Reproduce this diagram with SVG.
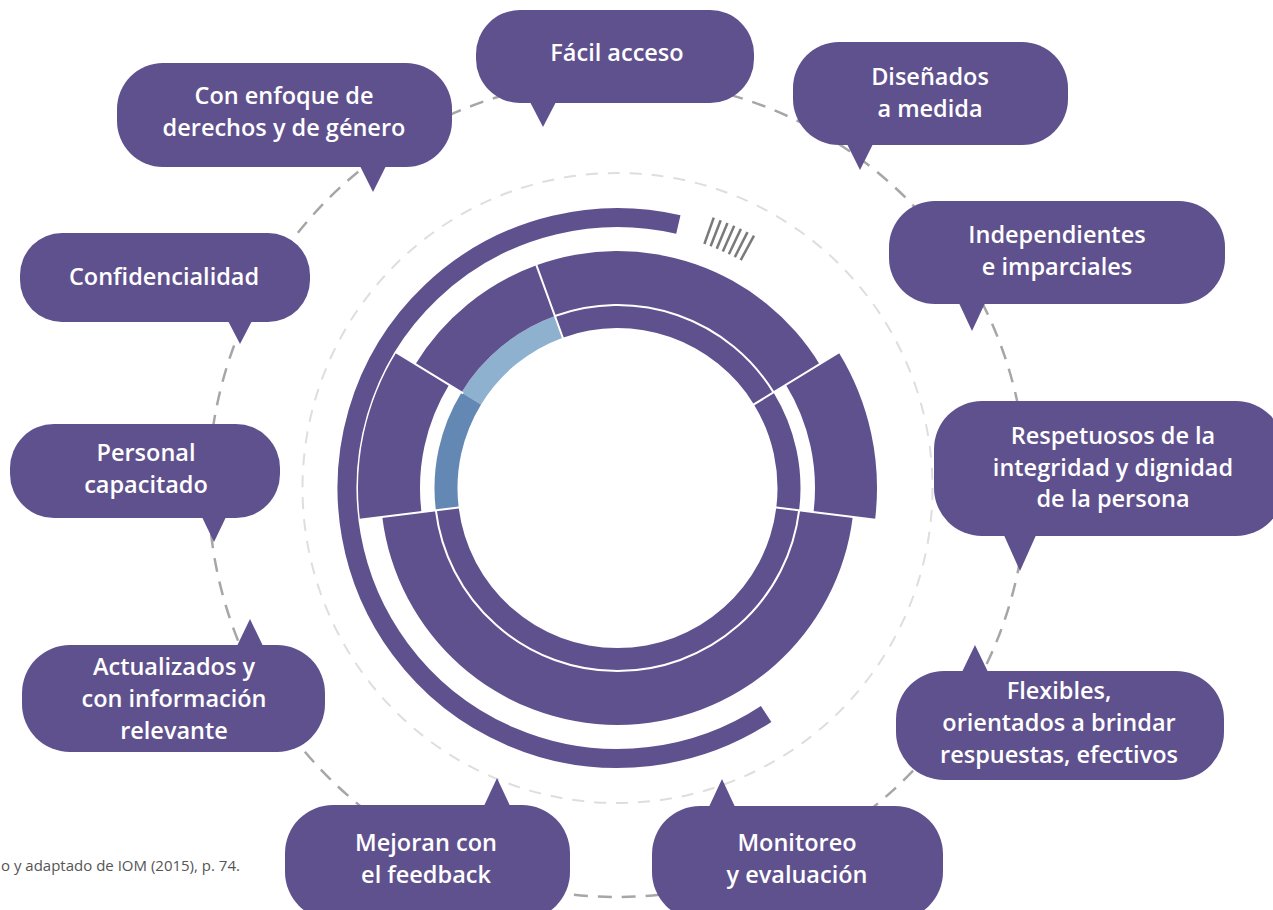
<svg xmlns="http://www.w3.org/2000/svg" width="1273" height="910" viewBox="0 0 1273 910">
<style>
.p{fill:#5f518e}
.lb{fill:#8fb1d0}
.mb{fill:#6488b4}
.wl{fill:none;stroke:#ffffff;stroke-width:2}
.bub{fill:#5f518e}
.t{font-family:"Open Sans","Noto Sans","Liberation Sans",sans-serif;font-weight:600;font-size:23.5px;fill:#ffffff;text-anchor:middle}
.foot{font-family:"Open Sans","Noto Sans","Liberation Sans",sans-serif;font-size:15px;fill:#555555}
.dk{fill:none;stroke:#a6a6a6;stroke-width:2.5;stroke-dasharray:14 10}
.lt{fill:none;stroke:#dedede;stroke-width:2;stroke-dasharray:12 10}
.tick{stroke:#7a7a7a;stroke-width:2.5;stroke-linecap:butt}
</style>
<rect width="1273" height="910" fill="#ffffff"/>
<g id="guides">
<circle class="dk" cx="617.5" cy="488" r="409"/>
<circle class="lt" cx="617.5" cy="488" r="315"/>
</g>
<g id="rings">
<path class="p" d="M 819.58 364.17 A 237 237 0 0 0 536.44 265.29 L 562.78 337.65 A 160 160 0 0 1 753.92 404.40 Z"/>
<path class="p" d="M 799.14 510.30 A 183 183 0 0 0 773.53 392.38 L 753.92 404.40 A 160 160 0 0 1 776.31 507.50 Z"/>
<path class="p" d="M 382.27 516.88 A 237 237 0 0 0 852.73 516.88 L 776.31 507.50 A 160 160 0 0 1 458.69 507.50 Z"/>
<path class="lb" d="M 554.91 316.04 A 183 183 0 0 0 461.47 392.38 L 481.08 404.40 A 160 160 0 0 1 562.78 337.65 Z"/>
<path class="mb" d="M 461.47 392.38 A 183 183 0 0 0 435.86 510.30 L 458.69 507.50 A 160 160 0 0 1 481.08 404.40 Z"/>
<path class="p" d="M 536.44 265.29 A 237 237 0 0 0 415.42 364.17 L 461.47 392.38 A 183 183 0 0 1 554.91 316.04 Z"/>
<path class="p" d="M 396.24 352.41 A 259.5 259.5 0 0 0 359.93 519.63 L 421.47 512.07 A 197.5 197.5 0 0 1 449.10 384.81 Z"/>
<path class="p" d="M 875.07 519.63 A 259.5 259.5 0 0 0 838.76 352.41 L 785.90 384.81 A 197.5 197.5 0 0 1 813.53 512.07 Z"/>
<path class="wl" d="M 773.53 392.38 A 183 183 0 0 0 554.91 316.04"/>
<path class="wl" d="M 435.86 510.30 A 183 183 0 0 0 799.14 510.30"/>
<path class="wl" d="M 563.46 339.53 L 535.76 263.41 M 752.22 405.44 L 840.89 351.10 M 774.32 507.26 L 877.55 519.93 M 463.17 393.43 L 394.11 351.10 M 460.68 507.26 L 357.45 519.93"/>
<path fill="none" stroke="#5f518e" stroke-width="19" d="M 678.35 224.43 A 270.5 270.5 0 1 0 766.14 714.0"/>
<g id="ticks">
<line class="tick" x1="704.38" y1="244.0" x2="713.77" y2="217.63"/>
<line class="tick" x1="710.62" y1="246.32" x2="720.69" y2="220.19"/>
<line class="tick" x1="716.74" y1="248.76" x2="727.46" y2="222.90"/>
<line class="tick" x1="722.85" y1="251.39" x2="734.23" y2="225.81"/>
<line class="tick" x1="728.87" y1="254.17" x2="740.91" y2="228.89"/>
<line class="tick" x1="734.81" y1="257.09" x2="747.5" y2="232.13"/>
<line class="tick" x1="740.69" y1="260.17" x2="754.0" y2="235.54"/>
</g>
</g>
<g id="n-facil">
<rect class="bub" x="476" y="10" width="278" height="93" rx="44"/>
<polygon class="bub" points="529,100 557,100 543,127"/>
<text class="t" x="617" y="61">Fácil acceso</text>
</g>
<g id="n-enfoque">
<rect class="bub" x="117" y="63" width="335" height="104" rx="46"/>
<polygon class="bub" points="359,164 387,164 373,192"/>
<text class="t" x="284" y="104">Con enfoque de</text>
<text class="t" x="284" y="136">derechos y de género</text>
</g>
<g id="n-disenados">
<rect class="bub" x="793" y="42" width="275" height="103" rx="46"/>
<polygon class="bub" points="846,142 874,142 860,170"/>
<text class="t" x="930" y="85">Diseñados</text>
<text class="t" x="930" y="117">a medida</text>
</g>
<g id="n-independientes">
<rect class="bub" x="889" y="201" width="336" height="103" rx="46"/>
<polygon class="bub" points="958,301 986,301 972,331"/>
<text class="t" x="1057" y="243">Independientes</text>
<text class="t" x="1057" y="275">e imparciales</text>
</g>
<g id="n-confidencialidad">
<rect class="bub" x="20" y="233" width="290" height="89" rx="42"/>
<polygon class="bub" points="227,319 253,319 240,344"/>
<text class="t" x="164" y="285">Confidencialidad</text>
</g>
<g id="n-respetuosos">
<rect class="bub" x="934" y="401" width="350" height="135" rx="48"/>
<polygon class="bub" points="1003,533 1037,533 1020,571"/>
<text class="t" x="1113" y="444">Respetuosos de la</text>
<text class="t" x="1113" y="476">integridad y dignidad</text>
<text class="t" x="1113" y="507">de la persona</text>
</g>
<g id="n-personal">
<rect class="bub" x="10" y="424" width="270" height="94" rx="44"/>
<polygon class="bub" points="201,515 227,515 214,542"/>
<text class="t" x="146" y="461">Personal</text>
<text class="t" x="146" y="493">capacitado</text>
</g>
<g id="n-flexibles">
<rect class="bub" x="896" y="671" width="328" height="109" rx="48"/>
<polygon class="bub" points="961,674 989,674 975,645"/>
<text class="t" x="1059" y="699">Flexibles,</text>
<text class="t" x="1059" y="731">orientados a brindar</text>
<text class="t" x="1059" y="763">respuestas, efectivos</text>
</g>
<g id="n-actualizados">
<rect class="bub" x="22" y="645" width="303" height="107" rx="48"/>
<polygon class="bub" points="236,648 264,648 250,619"/>
<text class="t" x="174" y="675">Actualizados y</text>
<text class="t" x="174" y="707">con información</text>
<text class="t" x="174" y="739">relevante</text>
</g>
<g id="n-mejoran">
<rect class="bub" x="285" y="805" width="285" height="115" rx="48"/>
<polygon class="bub" points="483,808 511,808 497,778"/>
<text class="t" x="426" y="851">Mejoran con</text>
<text class="t" x="426" y="883">el feedback</text>
</g>
<g id="n-monitoreo">
<rect class="bub" x="652" y="806" width="291" height="114" rx="48"/>
<polygon class="bub" points="708,809 736,809 722,779"/>
<text class="t" x="797" y="851">Monitoreo</text>
<text class="t" x="797" y="883">y evaluación</text>
</g>
<text class="foot" x="1" y="871">o y adaptado de IOM (2015), p. 74.</text>
</svg>
